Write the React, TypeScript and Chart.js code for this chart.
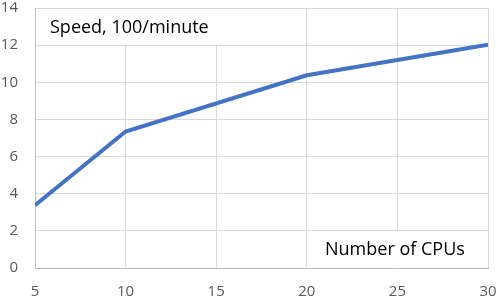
import React, { useEffect, useRef } from "react";
import { Chart, registerables } from "chart.js";

Chart.register(...registerables);

const cpus = [5, 10, 20, 30];
const speed = [3.38, 7.35, 10.38, 12.02];
const xTicks = [5, 10, 15, 20, 25, 30];
const yTitle = "Speed, 100/minute";
const xTitle = "Number of CPUs";

const FONT = "'Open Sans', 'Noto Sans', sans-serif";

const labelBoxes = {
  id: "labelBoxes",
  beforeDatasetsDraw(chart: any) {
    const ctx = chart.ctx;
    const a = chart.chartArea;
    ctx.save();
    ctx.fillStyle = "#ffffff";
    ctx.fillRect(a.left + 1, a.top + 1, 205, 36);
    ctx.fillRect(a.right - 173, a.bottom - 37, 163, 36);
    ctx.fillStyle = "#000000";
    ctx.font = `18px ${FONT}`;
    ctx.textBaseline = "middle";
    ctx.textAlign = "left";
    ctx.fillText(yTitle, a.left + 15, a.top + 20);
    ctx.fillText(xTitle, a.right - 163, a.bottom - 18);
    ctx.restore();
  },
};

const zeroPad = (s: any) => {
  s.paddingTop = 0;
  s.paddingBottom = 0;
  s.paddingLeft = 0;
  s.paddingRight = 0;
};

function App() {
  const ref = useRef<HTMLCanvasElement>(null);
  useEffect(() => {
    if (!ref.current) return;
    const chart = new Chart(ref.current, {
      type: "line",
      data: {
        datasets: [
          {
            data: cpus.map((c, i) => ({ x: c, y: speed[i] })),
            borderColor: "#4472C4",
            borderWidth: 4,
            pointRadius: 0,
            tension: 0,
            fill: false,
          },
        ],
      },
      options: {
        animation: false,
        responsive: false,
        maintainAspectRatio: false,
        layout: { padding: { top: 8, right: 10, left: 0, bottom: 0 } },
        plugins: { legend: { display: false }, tooltip: { enabled: false } },
        scales: {
          x: {
            type: "linear",
            min: 5,
            max: 30,
            afterBuildTicks: (s: any) => {
              s.ticks = xTicks.map((v) => ({ value: v }));
            },
            afterFit: (s: any) => {
              s.height = 32;
              zeroPad(s);
            },
            grid: { color: "#d9d9d9", lineWidth: 1, drawTicks: false },
            border: { color: "#bfbfbf", width: 1 },
            ticks: {
              color: "#595959",
              font: { family: FONT, size: 15 },
              padding: 15,
              maxRotation: 0,
            },
          },
          y: {
            min: 0,
            max: 14,
            afterFit: (s: any) => {
              s.width = 35;
              zeroPad(s);
            },
            grid: { color: "#d9d9d9", lineWidth: 1, drawTicks: false },
            border: { color: "#bfbfbf", width: 1 },
            ticks: {
              stepSize: 2,
              color: "#595959",
              font: { family: FONT, size: 15 },
              padding: 17,
            },
          },
        },
      },
      plugins: [labelBoxes],
    });
    return () => chart.destroy();
  }, []);
  return (
    <div style={{ position: "fixed", left: 0, top: 0, width: 498, height: 300, background: "#fff" }}>
      <canvas ref={ref} width={498} height={300} style={{ width: 498, height: 300 }} />
    </div>
  );
}

export default App;
